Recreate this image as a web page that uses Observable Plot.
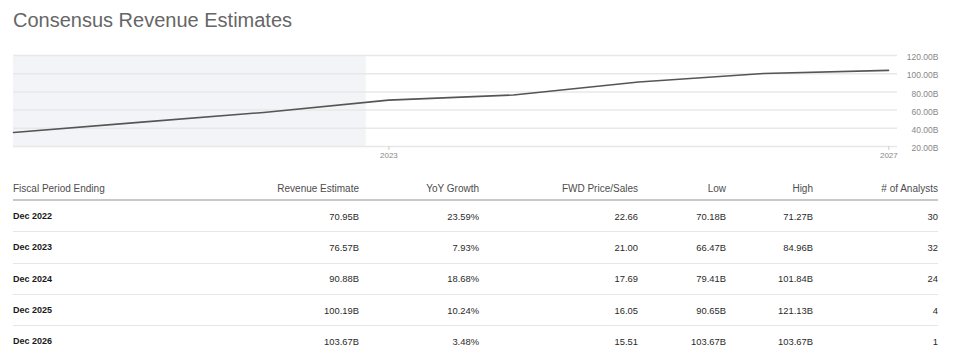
<!DOCTYPE html>
<html>
<head>
<meta charset="utf-8">
<script src="https://cdn.jsdelivr.net/npm/d3@7"></script>
<script src="https://cdn.jsdelivr.net/npm/@observablehq/plot@0.6"></script>
<style>
  html, body { margin: 0; padding: 0; background: #fff; }
  body { width: 954px; height: 359px; position: relative; overflow: hidden;
         font-family: Arial, "Liberation Sans", sans-serif; }
  #title { position: absolute; left: 13px; top: 8px; font-size: 20px; line-height: 24px; color: #666; }
  #chart { position: absolute; left: 0; top: 45px; }
  #tbl { position: absolute; left: 13px; top: 178px; border-collapse: collapse; table-layout: fixed; }
  #tbl th, #tbl td { padding: 0; white-space: nowrap; }
  #tbl th { height: 21px; font-size: 10px; font-weight: normal; color: #4d4d4d; border-bottom: 2px solid #c8c8c8; vertical-align: middle; }
  #tbl td { height: 30.3px; font-size: 9.4px; color: #2a2a2a; border-bottom: 1px solid #e6e6e6; vertical-align: middle; }
  #tbl tr:last-child td { border-bottom: none; }
  #tbl td:first-child { font-weight: bold; color: #1a1a1a; font-size: 9px; }
  #tbl .l { text-align: left; }
  #tbl .r { text-align: right; }
</style>
</head>
<body>
<div id="title">Consensus Revenue Estimates</div>
<div id="chart"></div>
<table id="tbl"></table>
<script>
// ---- chart data (billions) ----
const chartPeriods = ["Dec 2019", "Dec 2020", "Dec 2021", "Dec 2022", "Dec 2023", "Dec 2024", "Dec 2025", "Dec 2026"];
const chartRevenue = [35.4, 46.5, 57.41, 70.95, 76.57, 90.88, 100.19, 103.67];
const actualsEnd = "2022-10-27";           // shaded (reported) period ends here
const yTicks = [20, 40, 60, 80, 100, 120];
const xTickYears = [2023, 2027];

// ---- table data ----
const tableHeaders = ["Fiscal Period Ending", "Revenue Estimate", "YoY Growth", "FWD Price/Sales", "Low", "High", "# of Analysts"];
const tablePeriods = ["Dec 2022", "Dec 2023", "Dec 2024", "Dec 2025", "Dec 2026"];
const revenueEstimate = ["70.95B", "76.57B", "90.88B", "100.19B", "103.67B"];
const yoyGrowth = ["23.59%", "7.93%", "18.68%", "10.24%", "3.48%"];
const fwdPriceSales = ["22.66", "21.00", "17.69", "16.05", "15.51"];
const lowEst = ["70.18B", "66.47B", "79.41B", "90.65B", "103.67B"];
const highEst = ["71.27B", "84.96B", "101.84B", "121.13B", "103.67B"];
const analysts = ["30", "32", "24", "4", "1"];

const parsePeriod = p => { const [m, y] = p.split(" "); return new Date(+y, 11, 31); };
const data = chartPeriods.map((p, i) => ({date: parsePeriod(p), value: chartRevenue[i]}));
const [ay, am, ad] = actualsEnd.split("-").map(Number);
const shade = [{x1: data[0].date, x2: new Date(ay, am - 1, ad)}];

const chart = Plot.plot({
  width: 954,
  height: 120,
  marginTop: 10,
  marginBottom: 19,
  marginLeft: 13,
  marginRight: 57,
  style: {fontFamily: 'Arial, "Liberation Sans", sans-serif', background: "transparent"},
  x: {type: "time", domain: [data[0].date, data[data.length - 1].date], range: [13, 888], label: null},
  y: {domain: [20, 120], label: null},
  marks: [
    Plot.rect(shade, {x1: "x1", x2: "x2", fill: "#f3f4f7"}),
    Plot.ruleY(yTicks, {stroke: "#e8e8e8", strokeWidth: 1.5}),
    Plot.line(data, {x: "date", y: "value", stroke: "#555", strokeWidth: 1.6}),
    Plot.axisY({anchor: "right", ticks: yTicks, tickSize: 0, tickPadding: 41, textAnchor: "end", label: null,
                tickFormat: d => d.toFixed(2) + "B", fontSize: 8.5, fill: "#888", dy: 2}),
    Plot.axisX({ticks: xTickYears.map(y => new Date(y, 0, 1)), tickFormat: d3.timeFormat("%Y"), label: null,
                tickSize: 4, tickPadding: 2, fontSize: 8, stroke: "#ccc", fill: "#888"})
  ]
});
document.getElementById("chart").appendChild(chart);

// ---- table ----
const colWidths = [187, 159, 120, 159, 88, 87, 125];
const tbl = document.getElementById("tbl");
tbl.style.width = colWidths.reduce((a, b) => a + b, 0) + "px";
const cg = document.createElement("colgroup");
colWidths.forEach(w => { const c = document.createElement("col"); c.style.width = w + "px"; cg.appendChild(c); });
tbl.appendChild(cg);
const thead = document.createElement("tr");
tableHeaders.forEach((h, i) => {
  const th = document.createElement("th");
  th.textContent = h; th.className = i === 0 ? "l" : "r";
  thead.appendChild(th);
});
tbl.appendChild(thead);
tablePeriods.forEach((p, i) => {
  const tr = document.createElement("tr");
  [p, revenueEstimate[i], yoyGrowth[i], fwdPriceSales[i], lowEst[i], highEst[i], analysts[i]].forEach((v, j) => {
    const td = document.createElement("td");
    td.textContent = v; td.className = j === 0 ? "l" : "r";
    tr.appendChild(td);
  });
  tbl.appendChild(tr);
});
</script>
</body>
</html>
